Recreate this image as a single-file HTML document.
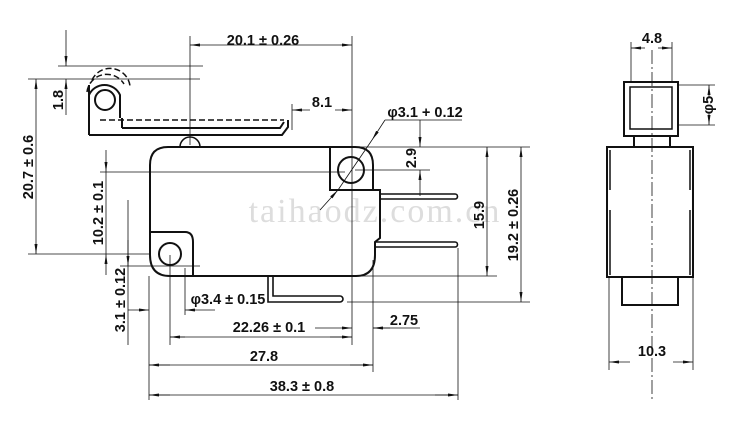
<!DOCTYPE html>
<html><head><meta charset="utf-8"><style>
html,body{margin:0;padding:0;background:#fff;width:750px;height:422px;overflow:hidden}
svg{display:block}
text{font-family:"Liberation Sans",Arial,sans-serif;font-weight:bold;font-size:14.5px;fill:#111;text-anchor:middle}
</style></head><body>
<svg width="750" height="422" viewBox="0 0 750 422" xmlns="http://www.w3.org/2000/svg">
<defs>
<marker id="a" markerWidth="10" markerHeight="6" refX="10" refY="3" orient="auto" markerUnits="userSpaceOnUse"><path d="M0,1.5 L10,3 L0,4.5z" fill="#111"/></marker>
</defs>
<text x="375" y="222" style="font-family:'Liberation Serif',serif;font-weight:normal;font-size:34px;fill:#ddd;letter-spacing:2px">taihaodz.com.cn</text>

<g stroke="#111" fill="none" stroke-width="0.8">
<line x1="190" y1="36" x2="190" y2="145"/>
<line x1="352" y1="36" x2="352" y2="345"/>
<line x1="58" y1="66" x2="203" y2="66"/>
<line x1="28" y1="79" x2="200" y2="79"/>
<line x1="28" y1="254" x2="150" y2="254"/>
<line x1="292" y1="104" x2="292" y2="130"/>
<line x1="355" y1="147" x2="530" y2="147"/>
<line x1="355" y1="170" x2="430" y2="170"/>
<line x1="100" y1="172" x2="345" y2="172"/>
<line x1="360" y1="276" x2="497" y2="276"/>
<line x1="347" y1="302" x2="530" y2="302"/>
<line x1="149" y1="276" x2="149" y2="400"/>
<line x1="170" y1="255" x2="170" y2="345"/>
<line x1="185" y1="268" x2="185" y2="315"/>
<line x1="120" y1="266" x2="200" y2="266"/>
<line x1="373" y1="260" x2="373" y2="372"/>
<line x1="458" y1="248" x2="458" y2="400"/>
<line x1="128" y1="200" x2="128" y2="345"/>
<line x1="200" y1="45" x2="190" y2="45" marker-end="url(#a)"/>
<line x1="340" y1="45" x2="352" y2="45" marker-end="url(#a)"/>
<line x1="200" y1="45" x2="340" y2="45"/>
<line x1="66" y1="30" x2="66" y2="66" marker-end="url(#a)"/>
<line x1="66" y1="115" x2="66" y2="79" marker-end="url(#a)"/>
<line x1="36" y1="100" x2="36" y2="79" marker-end="url(#a)"/>
<line x1="36" y1="230" x2="36" y2="254" marker-end="url(#a)"/>
<line x1="36" y1="100" x2="36" y2="230"/>
<line x1="310" y1="110" x2="292" y2="110" marker-end="url(#a)"/>
<line x1="335" y1="110" x2="352" y2="110" marker-end="url(#a)"/>
<line x1="385" y1="120" x2="462" y2="120"/>
<line x1="385" y1="120" x2="372" y2="140" marker-end="url(#a)"/>
<line x1="372" y1="140" x2="338" y2="190"/>
<line x1="320" y1="210" x2="338" y2="190" marker-end="url(#a)"/>
<line x1="420" y1="120" x2="420" y2="147" marker-end="url(#a)"/>
<line x1="420" y1="196" x2="420" y2="170" marker-end="url(#a)"/>
<line x1="487" y1="170" x2="487" y2="147" marker-end="url(#a)"/>
<line x1="487" y1="255" x2="487" y2="276" marker-end="url(#a)"/>
<line x1="487" y1="170" x2="487" y2="255"/>
<line x1="521" y1="170" x2="521" y2="147" marker-end="url(#a)"/>
<line x1="521" y1="280" x2="521" y2="302" marker-end="url(#a)"/>
<line x1="521" y1="170" x2="521" y2="280"/>
<line x1="106" y1="150" x2="106" y2="172" marker-end="url(#a)"/>
<line x1="106" y1="275" x2="106" y2="254" marker-end="url(#a)"/>
<line x1="106" y1="172" x2="106" y2="254"/>
<line x1="128" y1="240" x2="128" y2="266" marker-end="url(#a)"/>
<line x1="128" y1="310" x2="149" y2="310" marker-end="url(#a)"/>
<line x1="215" y1="310" x2="185" y2="310" marker-end="url(#a)"/>
<line x1="185" y1="337" x2="170" y2="337" marker-end="url(#a)"/>
<line x1="330" y1="337" x2="352" y2="337" marker-end="url(#a)"/>
<line x1="170" y1="337" x2="352" y2="337"/>
<line x1="315" y1="328" x2="352" y2="328" marker-end="url(#a)"/>
<line x1="390" y1="328" x2="373" y2="328" marker-end="url(#a)"/>
<line x1="373" y1="328" x2="420" y2="328"/>
<line x1="170" y1="365" x2="149" y2="365" marker-end="url(#a)"/>
<line x1="350" y1="365" x2="373" y2="365" marker-end="url(#a)"/>
<line x1="149" y1="365" x2="373" y2="365"/>
<line x1="170" y1="395" x2="149" y2="395" marker-end="url(#a)"/>
<line x1="435" y1="395" x2="458" y2="395" marker-end="url(#a)"/>
<line x1="149" y1="395" x2="458" y2="395"/>
</g>

<g stroke="#111" fill="none" stroke-width="2">
<path d="M89,135 L89,85 M89,135 L282,135 L288,127 L288,120"/>
<path d="M122,128 L122,118 M122,128 L280,128 L284,122"/>
<circle cx="105" cy="100" r="10"/>
<path d="M89,95 A17,17 0 0 1 120,95 L120,118"/>
<path d="M180,147 A10,10 0 0 1 200,147" stroke-width="1.5"/>
<path d="M150,255 L150,165 Q150,147 168,147 L355,147 Q373,147 373,165 L373,190 L380,190 L380,238 L375,242 L375,255 Q375,276 356,276 L170,276 Q150,276 150,255 Z"/>
<path d="M330,147 L330,190 L373,190"/>
<circle cx="351" cy="170" r="13"/>
<path d="M150,232 L185,232 Q193,232 193,242 L193,276"/>
<circle cx="170" cy="254" r="11"/>
<path d="M380,194 L455,194 M380,199 L455,199 M455,194 A2.5,2.5 0 0 1 455,199" stroke-width="1.6"/>
<path d="M375,242 L455,242 M375,247 L455,247 M455,242 A2.5,2.5 0 0 1 455,247" stroke-width="1.6"/>
<path d="M268,276 L268,302 L340,302 M273,276 L273,296 L340,296 M340,296 A3,3 0 0 1 340,302" stroke-width="1.6"/>
</g>
<g stroke="#111" fill="none" stroke-width="1.5" stroke-dasharray="6,3">
<path d="M100,120 L284,120"/>
<path d="M92,80 A20,20 0 0 1 130,86"/>
<path d="M87,92 A20,20 0 0 1 124,84"/>
</g>

<g stroke="#111" fill="none" stroke-width="2">
<rect x="624" y="82" width="54" height="54"/>
<rect x="630" y="87" width="42" height="42" stroke-width="1.5"/>
<path d="M634,136 L634,147 M670,136 L670,147"/>
<rect x="607" y="147" width="86" height="130"/>
<path d="M610,150 L610,190 M610,210 L610,275 M690,150 L690,190 M690,210 L690,275" stroke-width="1.5"/>
<rect x="622" y="277" width="56" height="28"/>
</g>
<g stroke="#111" fill="none" stroke-width="0.8">
<line x1="652" y1="50" x2="652" y2="400" stroke-dasharray="14,3,2,3"/>
<line x1="631" y1="42" x2="631" y2="82"/><line x1="672" y1="42" x2="672" y2="82"/>
<line x1="645" y1="48" x2="631" y2="48" marker-end="url(#a)"/>
<line x1="658" y1="48" x2="672" y2="48" marker-end="url(#a)"/>
<line x1="678" y1="85" x2="715" y2="85"/><line x1="678" y1="125" x2="715" y2="125"/>
<line x1="709" y1="98" x2="709" y2="85" marker-end="url(#a)"/>
<line x1="709" y1="112" x2="709" y2="125" marker-end="url(#a)"/>
<line x1="609" y1="277" x2="609" y2="370"/><line x1="693" y1="277" x2="693" y2="370"/>
<line x1="630" y1="362" x2="609" y2="362" marker-end="url(#a)"/>
<line x1="673" y1="362" x2="693" y2="362" marker-end="url(#a)"/>
</g>

<text x="263" y="45">20.1 ± 0.26</text>
<text x="322" y="107">8.1</text>
<text x="425" y="117">φ3.1 + 0.12</text>
<text transform="translate(63,100) rotate(-90)">1.8</text>
<text transform="translate(33,167) rotate(-90)">20.7 ± 0.6</text>
<text transform="translate(103,213) rotate(-90)">10.2 ± 0.1</text>
<text transform="translate(125,300) rotate(-90)">3.1 ± 0.12</text>
<text transform="translate(416,158) rotate(-90)">2.9</text>
<text transform="translate(484,215) rotate(-90)">15.9</text>
<text transform="translate(518,225) rotate(-90)">19.2 ± 0.26</text>
<text x="228" y="304">φ3.4 ± 0.15</text>
<text x="269" y="332">22.26 ± 0.1</text>
<text x="404" y="325">2.75</text>
<text x="264" y="361">27.8</text>
<text x="302" y="391">38.3 ± 0.8</text>
<text x="652" y="43">4.8</text>
<text transform="translate(713,105) rotate(-90)">φ5</text>
<text x="652" y="356">10.3</text>
</svg>
</body></html>
